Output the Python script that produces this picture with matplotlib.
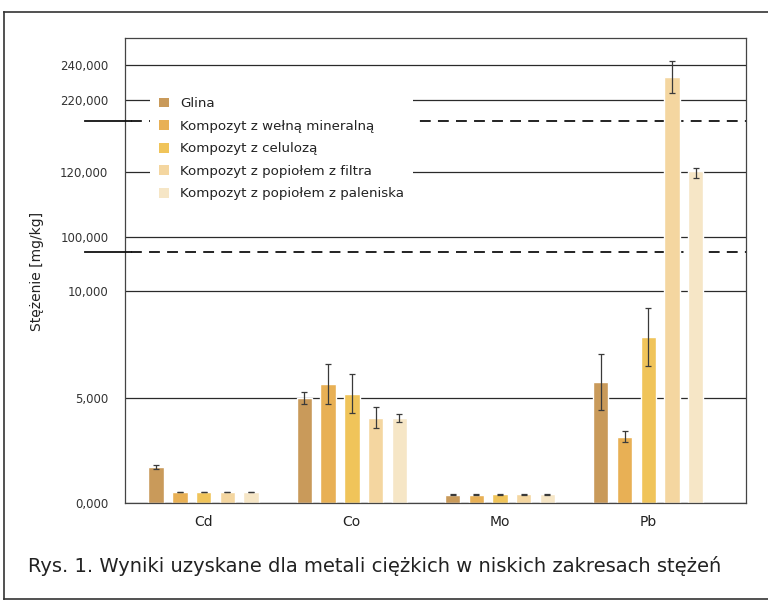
import numpy as np
import matplotlib.pyplot as plt
from matplotlib.patches import Patch
from matplotlib.lines import Line2D
import matplotlib.transforms as mtransforms

plt.rcParams['font.family'] = ['DejaVu Sans']

# dane
metale = ['Cd', 'Co', 'Mo', 'Pb']
serie = ['Glina', 'Kompozyt z wełną mineralną', 'Kompozyt z celulozą',
         'Kompozyt z popiołem z filtra', 'Kompozyt z popiołem z paleniska']
kolory = ['#c99a5a', '#e8b055', '#f0c45a', '#f4d6a0', '#f6e6c6']

glina = [1700, 5000, 400, 5750]
welna = [520, 5650, 400, 3150]
celuloza = [520, 5200, 410, 7850]
filtr = [520, 4050, 420, 233000]
palenisko = [520, 4050, 420, 121500]

glina_err = [100, 300, 20, 1300]
welna_err = [20, 950, 20, 260]
celuloza_err = [20, 900, 20, 1350]
filtr_err = [20, 500, 20, 9000]
palenisko_err = [20, 200, 20, 3500]

yticks = [0, 5000, 10000, 100000, 120000, 220000, 240000]
ytick_labels = ['0,000', '5,000', '10,000', '100,000', '120,000', '220,000', '240,000']
przerwy = [75000, 190800]   # miejsca przerwania osi

# skala osi y - odcinkami liniowa (os przerywana)
skala_wart = [0, 5000, 10000, 100000, 120000, 220000, 240000, 280000]
skala_poz = [0, 105, 212, 266, 331, 403, 438, 508]

def fwd(v):
    return np.interp(v, skala_wart, skala_poz)

def inv(p):
    return np.interp(p, skala_poz, skala_wart)


fig = plt.figure(figsize=(7.68, 6.02), dpi=100)
ax = fig.add_axes([0.1628, 0.1645, 0.8086, 0.7724])
ax.set_yscale('function', functions=(fwd, inv))

wartosci = [glina, welna, celuloza, filtr, palenisko]
bledy = [glina_err, welna_err, celuloza_err, filtr_err, palenisko_err]
x = np.arange(len(metale))
krok = 0.16
szer = 0.104
for i in range(5):
    pos = x + (i - 2) * krok
    ax.bar(pos, wartosci[i], width=szer, color=kolory[i], edgecolor='white',
           linewidth=1.0, zorder=2)
    ax.errorbar(pos, wartosci[i], yerr=bledy[i], fmt='none', ecolor='#3a3a3a',
                elinewidth=0.9, capsize=2.2, capthick=0.9, zorder=3)

ax.set_xlim(-0.53, 3.66)
ax.set_ylim(0, 255400)
ax.set_yticks(yticks)
ax.set_yticklabels(ytick_labels, fontsize=8.5, color='#333333')
ax.set_xticks(x)
ax.set_xticklabels(metale, fontsize=10, color='#222222')
ax.tick_params(axis='y', length=0, pad=12)
ax.tick_params(axis='x', length=0, pad=9)
ax.yaxis.grid(True, color='#2a2a2a', linewidth=0.9)
ax.set_axisbelow(True)
for s in ax.spines.values():
    s.set_color('#444444')
    s.set_linewidth(0.9)

# linie przerwania osi
tr = mtransforms.blended_transform_factory(ax.transAxes, ax.transData)
for p in przerwy:
    ax.plot([-0.064, 0.01], [p, p], color='#111111', lw=1.3, transform=tr,
            clip_on=False, zorder=4)
    ax.plot([0.01, 1.0], [p, p], color='#111111', lw=1.3, transform=tr,
            dashes=(6, 4), clip_on=False, zorder=1)

uchwyty = [Patch(facecolor=c, edgecolor='none') for c in kolory]
leg = ax.legend(uchwyty, serie, loc='upper left', bbox_to_anchor=(0.04, 0.893),
                borderaxespad=0, borderpad=0.7, fontsize=9.6, handlelength=0.75,
                handleheight=0.75, handletextpad=0.8, labelspacing=0.72,
                frameon=True, fancybox=False, framealpha=1, edgecolor='none',
                facecolor='white')
for t in leg.get_texts():
    t.set_color('#222222')

fig.text(37 / 768, 1 - 271 / 602, 'Stężenie [mg/kg]', rotation=90, fontsize=10,
         ha='center', va='center', color='#222222')
fig.text(28 / 768, 1 - 566 / 602,
         'Rys. 1. Wyniki uzyskane dla metali ciężkich w niskich zakresach stężeń',
         fontsize=14, ha='left', va='center', color='#222222')

# ramka strony
fig.add_artist(Line2D([4 / 768, 4 / 768], [1 - 12 / 602, 1 - 599 / 602],
                      transform=fig.transFigure, color='#333333', lw=1.2))
fig.add_artist(Line2D([4 / 768, 1.0], [1 - 12 / 602, 1 - 12 / 602],
                      transform=fig.transFigure, color='#333333', lw=1.2))
fig.add_artist(Line2D([4 / 768, 1.0], [1 - 599 / 602, 1 - 599 / 602],
                      transform=fig.transFigure, color='#333333', lw=1.2))

fig.savefig('out.png', dpi=100)
